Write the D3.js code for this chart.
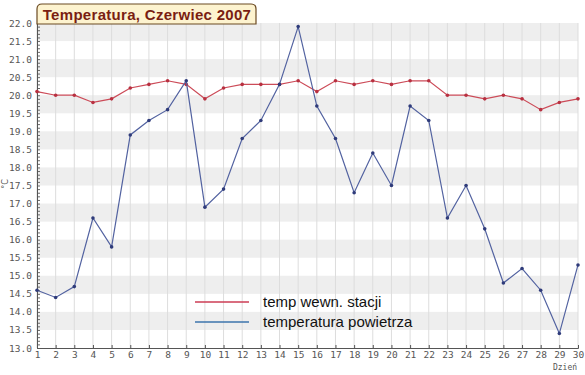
<!DOCTYPE html>
<html><head><meta charset="utf-8">
<script src="https://cdn.jsdelivr.net/npm/d3@7"></script>
<style>body{margin:0;background:#fff}svg{display:block}</style>
</head><body>
<svg id="c" width="585" height="375"></svg>
<script>
const days = d3.range(1, 31);
const tempStacji = [20.1,20.0,20.0,19.8,19.9,20.2,20.3,20.4,20.3,19.9,20.2,20.3,20.3,20.3,20.4,20.1,20.4,20.3,20.4,20.3,20.4,20.4,20.0,20.0,19.9,20.0,19.9,19.6,19.8,19.9];
const tempPowietrza = [14.6,14.4,14.7,16.6,15.8,18.9,19.3,19.6,20.4,16.9,17.4,18.8,19.3,20.3,21.9,19.7,18.8,17.3,18.4,17.5,19.7,19.3,16.6,17.5,16.3,14.8,15.2,14.6,13.4,15.3];
const yTicks = [13.0,13.5,14.0,14.5,15.0,15.5,16.0,16.5,17.0,17.5,18.0,18.5,19.0,19.5,20.0,20.5,21.0,21.5,22.0];
const seriesNames = ["temp wewn. stacji","temperatura powietrza"];
const title = "Temperatura, Czerwiec 2007";

const svg = d3.select("#c");
const L = 37, R = 578, T = 23, B = 348;
const x = d3.scaleLinear().domain([1,30]).range([L,R]);
const y = d3.scaleLinear().domain([13,22]).range([B,T]);

// bands
const bands = d3.range(13.5, 22, 1);
svg.append("g").selectAll("rect").data(bands).join("rect")
  .attr("x", L).attr("width", R-L)
  .attr("y", d => y(d+0.5)).attr("height", d => y(d)-y(d+0.5))
  .attr("fill", "#eeeeee");
// vertical grid
svg.append("g").selectAll("line").data(days).join("line")
  .attr("x1", d=>x(d)).attr("x2", d=>x(d)).attr("y1", T).attr("y2", B)
  .attr("stroke", "#dddddd").attr("stroke-width", 1);

// axes
const fmt = d3.format(".1f");
const ga = svg.append("g").attr("transform", `translate(${L},0)`)
  .call(d3.axisRight(y).tickValues(d3.range(130,221).map(v=>v/10)).tickSize(3).tickFormat(""));
ga.select(".domain").remove();
ga.selectAll("line").attr("stroke","#666");
const gl = svg.append("g").attr("transform", `translate(${L},0)`)
  .call(d3.axisLeft(y).tickValues(yTicks).tickSize(0).tickPadding(5).tickFormat(fmt));
gl.select(".domain").attr("stroke","#555");
gl.selectAll("text").attr("font-family","DejaVu Sans Mono").attr("font-size",9.5).attr("fill","#555");

const gb = svg.append("g").attr("transform", `translate(0,${B})`)
  .call(d3.axisTop(x).tickValues(days).tickSize(3).tickFormat(""));
gb.select(".domain").attr("stroke","#555");
gb.selectAll("line").attr("stroke","#555");
const gbl = svg.append("g").attr("transform", `translate(0,${B})`)
  .call(d3.axisBottom(x).tickValues(days).tickSize(0).tickPadding(3).tickFormat(d3.format("d")));
gbl.select(".domain").remove();
gbl.selectAll("text").attr("font-family","DejaVu Sans Mono").attr("font-size",9.5).attr("fill","#555");

svg.append("text").attr("x", 565).attr("y", 370).attr("text-anchor","middle")
  .attr("font-family","DejaVu Sans Mono").attr("font-size",8).attr("fill","#555").text("Dzień");
svg.append("text").attr("transform","translate(8,184) rotate(-90)").attr("text-anchor","middle")
  .attr("font-family","DejaVu Sans").attr("font-size",8).attr("fill","#555").text("°C");

// lines
const line = d3.line().x((d,i)=>x(days[i])).y(d=>y(d));
function drawSeries(data, color, mark){
  svg.append("path").datum(data).attr("d", line).attr("fill","none")
    .attr("stroke", color).attr("stroke-width", 1.2);
  svg.append("g").selectAll("circle").data(data).join("circle")
    .attr("cx",(d,i)=>x(days[i])).attr("cy", d=>y(d)).attr("r",1.8).attr("fill", mark);
}
drawSeries(tempStacji, "#cc4b58", "#b83040");
drawSeries(tempPowietrza, "#5262a0", "#2f3b7a");

// legend
const legColors = ["#cc3d55","#3d74ad"];
const lg = svg.append("g");
seriesNames.forEach((n,i)=>{
  const yy = 302 + i*20;
  lg.append("line").attr("x1",195).attr("x2",249).attr("y1",yy).attr("y2",yy)
    .attr("stroke",legColors[i]).attr("stroke-width",1.5);
  lg.append("text").attr("x",263).attr("y",yy+5).attr("font-family","Liberation Sans, Arial")
    .attr("font-size",15).attr("fill","#111").text(n);
});

// title
svg.append("path")
  .attr("d","M37,24 L37,9 Q37,4 42,4 L251,4 Q256,4 256,9 L256,24 Z")
  .attr("fill","#fdf3cf").attr("stroke","#6b4a22").attr("stroke-width",1.2);
svg.append("text").attr("x",147).attr("y",19.5).attr("text-anchor","middle")
  .attr("font-family","Liberation Sans, Arial").attr("font-weight","bold").attr("font-size",15)
  .attr("letter-spacing",0.3).attr("fill","#7a1e12").text(title);
</script>
</body></html>
